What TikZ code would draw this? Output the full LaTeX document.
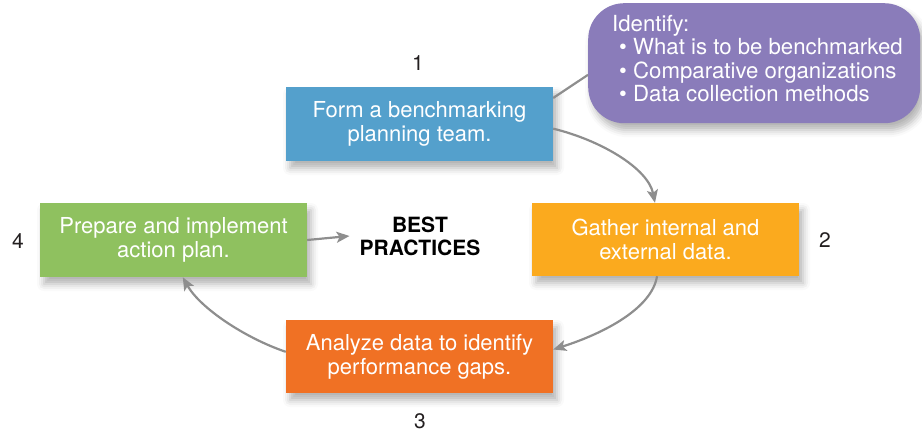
\documentclass[tikz,border=0pt]{standalone}
\usepackage{fontspec}
\setmainfont{TeX Gyre Heros}
\usetikzlibrary{arrows.meta,shadows.blur}
\definecolor{cblue}{HTML}{54A0CC}
\definecolor{cpurple}{HTML}{8A7CBA}
\definecolor{cyellow}{HTML}{FBAA1E}
\definecolor{cgreen}{HTML}{8FC15F}
\definecolor{corange}{HTML}{F07124}
\definecolor{cline}{HTML}{8E8E8E}
\definecolor{ctext}{HTML}{231F20}
\tikzset{
  stepbox/.style={draw=none, minimum width=267pt, minimum height=74pt, inner sep=0pt,
    align=center, text=white, font=\fontsize{22}{24}\selectfont,
    blur shadow={shadow xshift=4pt, shadow yshift=-7pt, shadow blur radius=7pt, shadow opacity=30}},
  calloutbox/.style={fill=cpurple, rounded corners=36pt, minimum width=332pt, minimum height=120pt, inner sep=0pt,
    blur shadow={shadow xshift=4pt, shadow yshift=-7pt, shadow blur radius=7pt, shadow opacity=30}},
  calltext/.style={anchor=base west, inner sep=0pt, text=white, font=\fontsize{22.2}{24}\selectfont},
  numlabel/.style={inner sep=0pt, text=ctext, font=\fontsize{21}{24}\selectfont},
  conn/.style={draw=cline, line width=2.2pt},
  flow/.style={conn, -{Stealth[length=13pt, width=11pt, inset=3pt]}},
}
\begin{document}
\begin{tikzpicture}[x=1pt, y=-1pt]
\useasboundingbox (0,0) rectangle (922,436);
% callout
\node[calloutbox, anchor=north west] (callout) at (588,3) {};
\node[calltext] (id0) at (612,31.5) {Identify:};
\node[calltext] (id1) at (619,55) {\textbullet\ What is to be benchmarked};
\node[calltext] (id2) at (619,78.5) {\textbullet\ Comparative organizations};
\node[calltext] (id3) at (619,102) {\textbullet\ Data collection methods};
% steps
\node[stepbox, fill=cblue] (blue) at (419.5,124) {Form a benchmarking\\planning team.};
\node[stepbox, fill=cyellow, minimum height=73pt] (yellow) at (665.5,239.5) {Gather internal and\\external data.};
\node[stepbox, fill=corange, minimum height=73pt] (orange) at (419.5,356.5) {Analyze data to identify\\performance gaps.};
\node[stepbox, fill=cgreen] (green) at (173.5,240) {Prepare and implement\\action plan.};
\node[inner xsep=10pt, inner ysep=0pt, align=center, text=black, font=\fontsize{21}{23}\bfseries\selectfont] (best) at (420,236) {BEST\\PRACTICES};
% numbers
\node[numlabel] (n1) at (418,63) {1};
\node[numlabel] (n2) at (825,240) {2};
\node[numlabel] (n3) at (420,421.5) {3};
\node[numlabel] (n4) at (18,241) {4};
% connectors
\draw[conn] (blue.11) -- (callout.184);
\draw[flow] (blue.-2) .. controls (600,140) and (648,168) .. (yellow.106);
\draw[flow] (yellow.257) .. controls (652,308) and (605,333) .. (orange.3);
\draw[flow] (orange.178) .. controls (245,338) and (200,308) .. (green.-76);
\draw[flow] (green.east) -- (best.west);
\end{tikzpicture}
\end{document}
